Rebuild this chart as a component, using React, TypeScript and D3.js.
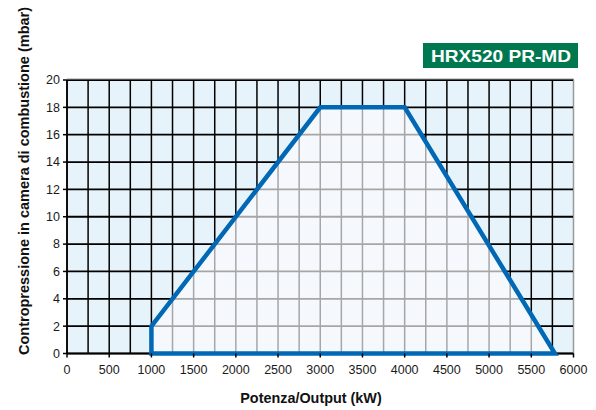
import React from "react";
import * as d3 from "d3";

const xTicks = [0, 500, 1000, 1500, 2000, 2500, 3000, 3500, 4000, 4500, 5000, 5500, 6000];
const yTicks = [0, 2, 4, 6, 8, 10, 12, 14, 16, 18, 20];
const envelopeX = [1000, 1000, 3000, 4000, 5780];
const envelopeY = [0, 2, 18, 18, 0];
const title = "HRX520 PR-MD";
const xTitle = "Potenza/Output (kW)";
const yTitle = "Contropressione in camera di combustione (mbar)";

export default function App() {
  const W = 596, H = 410;
  const left = 67, right = 573.5, top = 80, bottom = 353.5;
  const x = d3.scaleLinear().domain([0, 6000]).range([left, right]);
  const y = d3.scaleLinear().domain([0, 20]).range([bottom, top]);
  const xGrid = d3.range(0, 6001, 250);
  const pts: [number, number][] = envelopeX.map((v, i) => [v, envelopeY[i]]);
  const line = d3.line<[number, number]>().x(d => x(d[0])).y(d => y(d[1]));
  const polyPath = line(pts) + "Z";
  const font = "'Liberation Sans', Arial, Helvetica, sans-serif";
  return (
    <svg width={W} height={H} style={{ position: "absolute", left: 0, top: 0 }} fontFamily={font}>
      <defs>
        <clipPath id="env"><path d={polyPath} /></clipPath>
      </defs>
      <rect x={0} y={0} width={W} height={H} fill="#ffffff" />
      <rect x={left} y={top} width={right - left} height={bottom - top} fill="#e7f3fb" />
      {xGrid.map(v => (
        <line key={"xg" + v} x1={x(v)} x2={x(v)} y1={top} y2={bottom} stroke="#000" strokeWidth={v === 6000 ? 1.2 : 1.5} />
      ))}
      {yTicks.map(v => (
        <line key={"yg" + v} x1={left} x2={right} y1={y(v)} y2={y(v)} stroke="#000" strokeWidth={1.8} />
      ))}
      <path d={polyPath} fill="#f5f9fd" />
      <g clipPath="url(#env)">
        {xGrid.map(v => (
          <line key={"xgi" + v} x1={x(v)} x2={x(v)} y1={top} y2={bottom} stroke="#a6a6a6" strokeWidth={1.5} />
        ))}
        {yTicks.map(v => (
          <line key={"ygi" + v} x1={left} x2={right} y1={y(v)} y2={y(v)} stroke="#a6a6a6" strokeWidth={1.8} />
        ))}
      </g>
      <line x1={left} x2={right} y1={top - 1} y2={top - 1} stroke="#9a9a9a" strokeWidth={1} />
      <line x1={right} x2={right} y1={top} y2={bottom} stroke="#9a9a9a" strokeWidth={1} />
      <line x1={left} x2={left} y1={top} y2={bottom} stroke="#000" strokeWidth={1.5} />
      <line x1={left} x2={right} y1={bottom} y2={bottom} stroke="#000" strokeWidth={1.5} />
      <path d={polyPath} fill="none" stroke="#0068b4" strokeWidth={4.5} strokeLinejoin="miter" />
      {yTicks.map(v => (
        <g key={"yt" + v}>
          <line x1={left - 4} x2={left} y1={y(v)} y2={y(v)} stroke="#000" strokeWidth={1.5} />
          <text x={left - 7} y={y(v)} dy="0.35em" textAnchor="end" fontSize={12.5} fill="#1a1a1a">{v}</text>
        </g>
      ))}
      {xTicks.map(v => (
        <g key={"xt" + v}>
          <line x1={x(v)} x2={x(v)} y1={bottom} y2={bottom + 4} stroke="#000" strokeWidth={1.5} />
          <text x={x(v)} y={bottom + 20} textAnchor="middle" fontSize={12.5} fill="#1a1a1a">{v}</text>
        </g>
      ))}
      <text x={311} y={403} textAnchor="middle" fontSize={14.4} fontWeight="bold" fill="#111">{xTitle}</text>
      <text transform={`translate(29,${181}) rotate(-90)`} textAnchor="middle" fontSize={14.5} fontWeight="bold" fill="#111">{yTitle}</text>
      <rect x={423} y={43} width={155} height={25} fill="#00784f" />
      <text x={431} y={61.5} fontSize={16.5} fontWeight="bold" fill="#fff" textLength={140} lengthAdjust="spacingAndGlyphs">{title}</text>
    </svg>
  );
}
